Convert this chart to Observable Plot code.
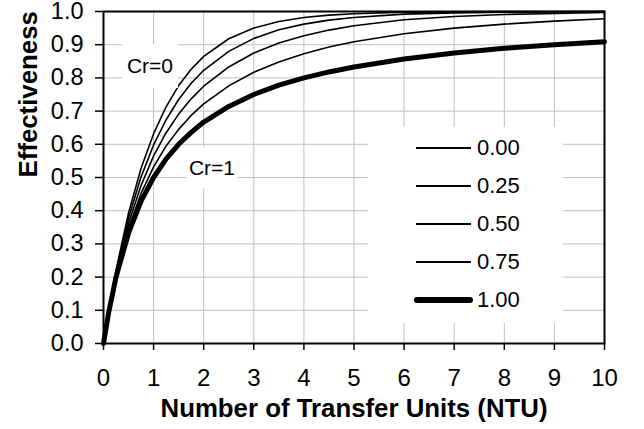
<!DOCTYPE html>
<html>
<head>
<meta charset="utf-8">
<script src="https://cdn.jsdelivr.net/npm/d3@7"></script>
<script src="https://cdn.jsdelivr.net/npm/@observablehq/plot@0.6"></script>
<style>
  html, body { margin: 0; padding: 0; background: white; }
  #chart { position: relative; width: 644px; height: 429px; font-family: "Liberation Sans", Arial, sans-serif; }
  #chart svg { display: block; }
  .note { position: absolute; background: white; font-size: 21px; color: black;
          display: flex; align-items: center; justify-content: center; }
  #legend { position: absolute; left: 368px; top: 127px; width: 195px; height: 196px; background: white; }
  .row { position: absolute; left: 0; height: 38px; }
  .swatch { position: absolute; background: black; }
  .lab { position: absolute; left: 109px; font-size: 22px; line-height: 22px; }
</style>
</head>
<body>
<div id="chart"></div>
<script>
// Counterflow exchanger effectiveness vs. NTU for several capacity ratios Cr
const ntu = [0, 0.1, 0.25, 0.5, 0.75, 1, 1.25, 1.5, 1.75, 2, 2.5, 3, 3.5, 4, 4.5, 5, 6, 7, 8, 9, 10];
const crValues = [0, 0.25, 0.5, 0.75, 1];
const crLabels = ["0.00", "0.25", "0.50", "0.75", "1.00"];
const eff000 = [0, 0.095, 0.221, 0.393, 0.528, 0.632, 0.713, 0.777, 0.826, 0.865, 0.918, 0.950, 0.970, 0.982, 0.989, 0.993, 0.998, 0.999, 1.000, 1.000, 1.000];
const eff025 = [0, 0.094, 0.216, 0.378, 0.502, 0.598, 0.674, 0.735, 0.784, 0.823, 0.880, 0.919, 0.945, 0.962, 0.974, 0.982, 0.992, 0.996, 0.998, 0.999, 1.000];
const eff050 = [0, 0.093, 0.210, 0.362, 0.476, 0.565, 0.635, 0.691, 0.737, 0.775, 0.833, 0.875, 0.905, 0.927, 0.944, 0.957, 0.975, 0.985, 0.991, 0.994, 0.997];
const eff075 = [0, 0.092, 0.205, 0.348, 0.452, 0.532, 0.595, 0.645, 0.687, 0.722, 0.776, 0.817, 0.848, 0.873, 0.893, 0.909, 0.933, 0.950, 0.962, 0.971, 0.978];
const eff100 = [0, 0.091, 0.200, 0.333, 0.429, 0.500, 0.556, 0.600, 0.636, 0.667, 0.714, 0.750, 0.778, 0.800, 0.818, 0.833, 0.857, 0.875, 0.889, 0.900, 0.909];
const xTicks = [0, 1, 2, 3, 4, 5, 6, 7, 8, 9, 10];
const yTicks = [0, 0.1, 0.2, 0.3, 0.4, 0.5, 0.6, 0.7, 0.8, 0.9, 1.0];
const xTitle = "Number of Transfer Units (NTU)";
const yTitle = "Effectiveness";

const series = [eff000, eff025, eff050, eff075, eff100];
const rows = crValues.flatMap((cr, i) => ntu.map((n, j) => ({ntu: n, eff: series[i][j], cr})));
const widthFor = cr => cr === 1 ? 5 : 1.6;

const plot = Plot.plot({
  width: 644,
  height: 429,
  marginLeft: 103,
  marginRight: 40,
  marginTop: 11,
  marginBottom: 86,
  style: {fontFamily: "'Liberation Sans', Arial, sans-serif", fontSize: "24px", color: "black", background: "white", overflow: "visible"},
  x: {domain: [0, 10]},
  y: {domain: [0, 1]},
  marks: [
    Plot.gridX(xTicks, {stroke: "#c0c0c0", strokeOpacity: 1, strokeWidth: 1}),
    Plot.gridY(yTicks, {stroke: "#c0c0c0", strokeOpacity: 1, strokeWidth: 1}),
    ...crValues.map(cr => Plot.line(rows.filter(d => d.cr === cr), {
      x: "ntu", y: "eff", stroke: "black", strokeWidth: widthFor(cr), strokeLinejoin: "round"
    })),
    Plot.frame({stroke: "black", strokeWidth: 2}),
    Plot.axisX({ticks: xTicks, tickSize: 7, tickPadding: 18, fontSize: 24, label: null, tickFormat: d3.format("d"), strokeWidth: 1.5}),
    Plot.axisY({ticks: yTicks, tickSize: 8, tickPadding: 12, fontSize: 23.5, label: null, tickFormat: d3.format(".1f"), strokeWidth: 1.5}),
    Plot.text([xTitle], {frameAnchor: "bottom", dy: 65, text: d => d, fontWeight: "bold", fontSize: 25.8, lineAnchor: "middle"}),
    Plot.text([yTitle], {frameAnchor: "left", dx: -75, rotate: -90, text: d => d, fontWeight: "bold", fontSize: 25.8, lineAnchor: "middle"})
  ]
});

const chart = document.getElementById("chart");
chart.appendChild(plot);

// Curve annotations on white patches
function note(text, left, top, w, h) {
  const el = document.createElement("div");
  el.className = "note";
  el.style.left = left + "px";
  el.style.top = top + "px";
  el.style.width = w + "px";
  el.style.height = h + "px";
  el.textContent = text;
  chart.appendChild(el);
}
note("Cr=0", 122, 44, 56, 44);
note("Cr=1", 186, 147, 52, 41);

// Legend: one sample line per capacity ratio
const legend = document.createElement("div");
legend.id = "legend";
crLabels.forEach((label, i) => {
  const cr = crValues[i];
  const row = document.createElement("div");
  row.className = "row";
  row.style.top = (2 + i * 38) + "px";
  row.style.width = "195px";
  const sw = document.createElement("div");
  sw.className = "swatch";
  const w = cr === 1 ? 6 : 2;
  sw.style.height = w + "px";
  sw.style.top = (19 - w / 2) + "px";
  sw.style.left = (cr === 1 ? 46 : 48) + "px";
  sw.style.width = (cr === 1 ? 59 : 55) + "px";
  if (cr === 1) sw.style.borderRadius = "3px";
  const lab = document.createElement("div");
  lab.className = "lab";
  lab.style.top = "8px";
  lab.textContent = label;
  row.appendChild(sw);
  row.appendChild(lab);
  legend.appendChild(row);
});
chart.appendChild(legend);
</script>
</body>
</html>
